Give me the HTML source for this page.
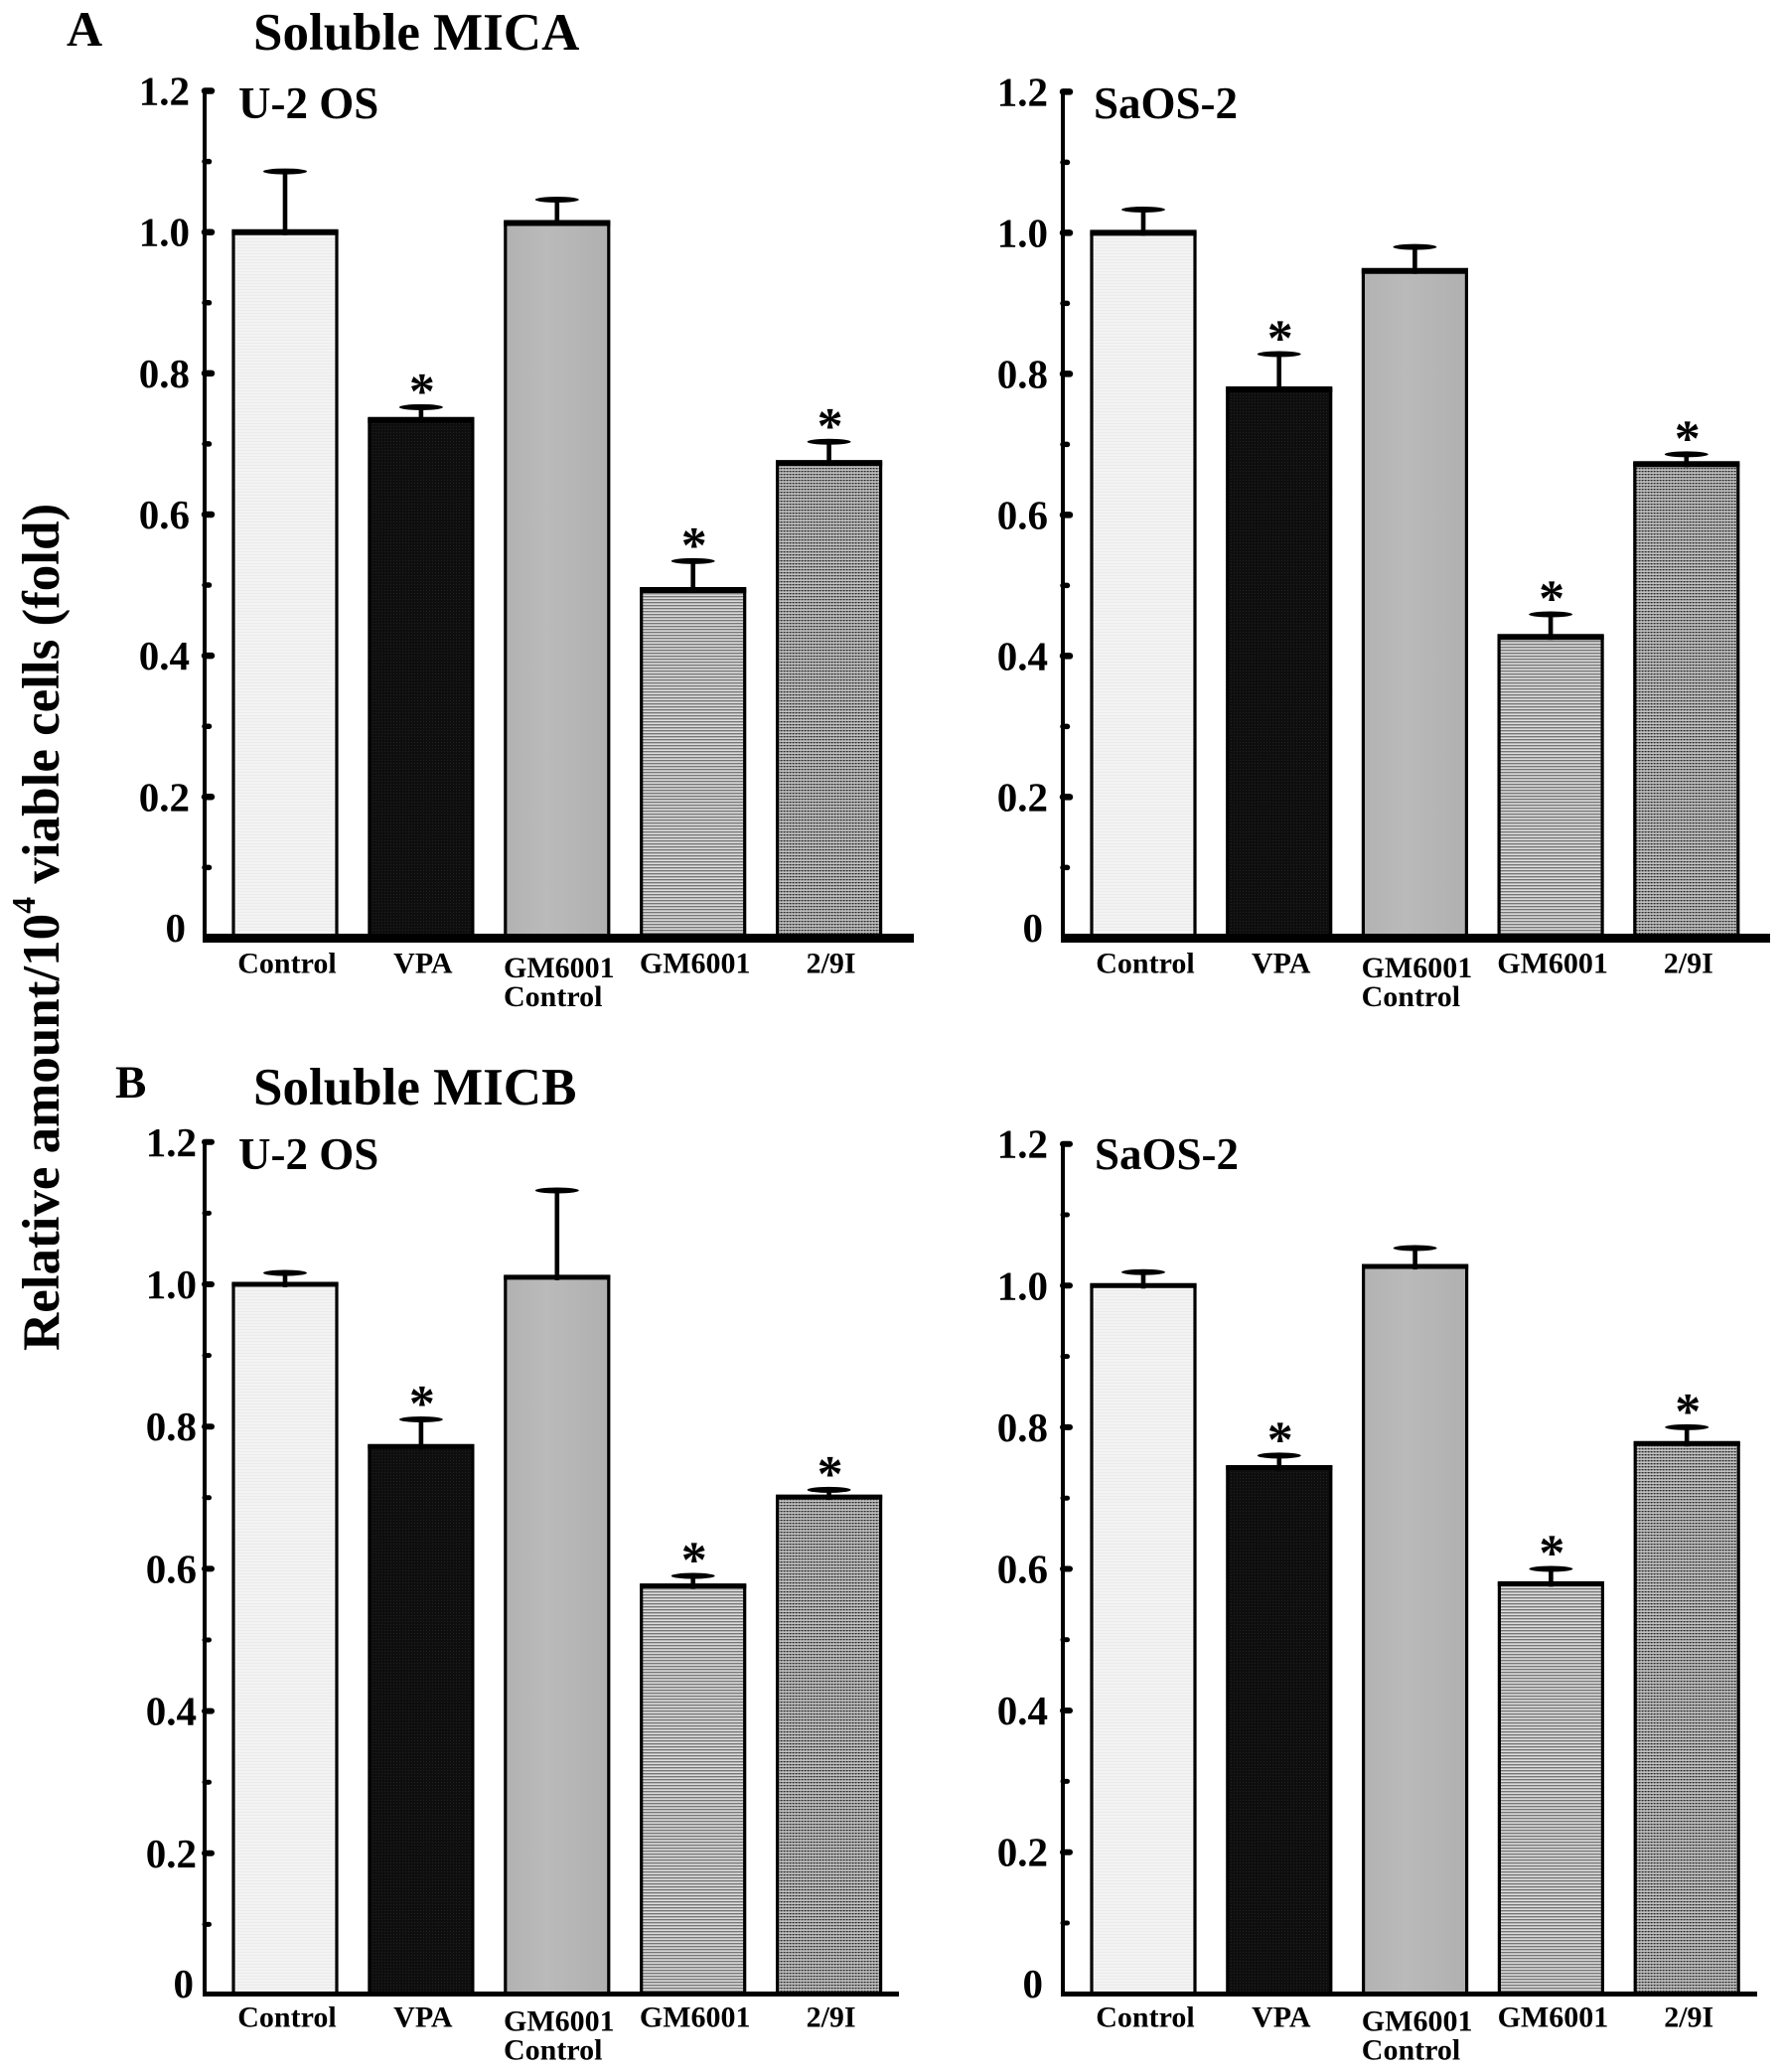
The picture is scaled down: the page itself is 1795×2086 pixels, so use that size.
<!DOCTYPE html>
<html lang="en">
<head>
<meta charset="utf-8">
<title>Soluble MICA and MICB bar charts</title>
<style>
  html, body { margin: 0; padding: 0; background: #fff; }
  svg { display: block; }
  text { font-family: "Liberation Serif", serif; font-weight: bold; fill: #000; }
</style>
</head>
<body>
<svg id="figure" xmlns="http://www.w3.org/2000/svg" width="1795" height="2086" viewBox="0 0 1795 2086">
  <defs>
    <pattern id="fill-control" width="3" height="3" patternUnits="userSpaceOnUse">
      <rect width="3" height="3" fill="#f3f3f3"/>
      <rect width="3" height="1" fill="#ebebeb"/>
    </pattern>
    <pattern id="fill-vpa" width="3" height="3" patternUnits="userSpaceOnUse">
      <rect width="3" height="3" fill="#0e0e0e"/>
      <rect width="1" height="1" fill="#222"/>
    </pattern>
    <linearGradient id="fill-gmctl">
      <stop offset="0" stop-color="#b2b2b2"/>
      <stop offset="0.4" stop-color="#bababa"/>
      <stop offset="1" stop-color="#b0b0b0"/>
    </linearGradient>
    <pattern id="fill-gm" width="4" height="3" patternUnits="userSpaceOnUse">
      <rect width="4" height="3" fill="#dcdcdc"/>
      <rect width="4" height="1.4" fill="#777"/>
    </pattern>
    <pattern id="fill-29i" width="3" height="3" patternUnits="userSpaceOnUse">
      <rect width="3" height="3" fill="#2a2a2a"/>
      <rect y="1.5" width="3" height="1.3" fill="#e6e6e6"/>
      <rect x="1.6" width="1" height="1.5" fill="#bbb"/>
    </pattern>
  </defs>

  <text x="67" y="46" font-size="50">A</text>
  <text x="255" y="50" font-size="53">Soluble MICA</text>
  <text x="116" y="1105" font-size="47">B</text>
  <text x="255" y="1112" font-size="53">Soluble MICB</text>

  <text transform="translate(59,1360) rotate(-90)" font-size="53">Relative amount/10<tspan dy="-24" font-size="34">4</tspan><tspan dy="24"> viable cells (fold)</tspan></text>
</svg>

<script>
// ---- chart data ----
const categories = ['Control', 'VPA', 'GM6001|Control', 'GM6001', '2/9I'];
const tickValues = [0, 0.2, 0.4, 0.6, 0.8, 1.0, 1.2];
const tickLabels = ['0', '0.2', '0.4', '0.6', '0.8', '1.0', '1.2'];
const starredCategories = ['VPA', 'GM6001', '2/9I'];

const micaU2osValues   = [1.000, 0.734, 1.013, 0.493, 0.673];
const micaU2osErrors   = [0.086, 0.018, 0.033, 0.041, 0.030];
const micaSaos2Values  = [1.000, 0.778, 0.946, 0.427, 0.672];
const micaSaos2Errors  = [0.033, 0.050, 0.034, 0.032, 0.014];
const micbU2osValues   = [1.000, 0.772, 1.010, 0.576, 0.701];
const micbU2osErrors   = [0.016, 0.038, 0.122, 0.014, 0.010];
const micbSaos2Values  = [1.000, 0.743, 1.027, 0.579, 0.777];
const micbSaos2Errors  = [0.019, 0.017, 0.026, 0.021, 0.023];

// ---- layout ----
const panels = [
  { id: 'mica-u2os',  title: 'U-2 OS', titleX: 240,  titleY: 119,  axisX: 206,  zeroY: 944.4, axisY: 944.5, axisW: 9, unit: 710.7, barX: 235,  step: 136.9, axisEnd: 920,  labelGap: 15,  zeroGap: 19,   labelDy: 35,   twoLineDy: 4.5, tickW: 6.5, topW: 6, values: micaU2osValues,  errors: micaU2osErrors },
  { id: 'mica-saos2', title: 'SaOS-2', titleX: 1101, titleY: 119,  axisX: 1070, zeroY: 944.4, axisY: 944.5, axisW: 9, unit: 710,   barX: 1099, step: 136.7, axisEnd: 1782, labelGap: 15,  zeroGap: 20,   labelDy: 35,   twoLineDy: 4.5, tickW: 6.5, topW: 6, values: micaSaos2Values, errors: micaSaos2Errors },
  { id: 'micb-u2os',  title: 'U-2 OS', titleX: 240,  titleY: 1177, axisX: 206,  zeroY: 2009,  axisY: 2007.5, axisW: 5, unit: 716,  barX: 235,  step: 136.9, axisEnd: 905,  labelGap: 8,   zeroGap: 11,   labelDy: 33,   twoLineDy: 4,   tickW: 6,   topW: 5, values: micbU2osValues,  errors: micbU2osErrors },
  { id: 'micb-saos2', title: 'SaOS-2', titleX: 1102, titleY: 1177, axisX: 1070, zeroY: 2007.3, axisY: 2007.5, axisW: 5, unit: 713, barX: 1099, step: 136.8, axisEnd: 1769, labelGap: 15,  zeroGap: 20,   labelDy: 33,   twoLineDy: 4,   tickW: 6,   topW: 5, values: micbSaos2Values, errors: micbSaos2Errors }
];
const BAR_W = 104;
const fills = ['url(#fill-control)', 'url(#fill-vpa)', 'url(#fill-gmctl)', 'url(#fill-gm)', 'url(#fill-29i)'];

const NS = 'http://www.w3.org/2000/svg';
const svg = document.getElementById('figure');

function mk(tag, attrs, parent, text) {
  const el = document.createElementNS(NS, tag);
  for (const k in attrs) el.setAttribute(k, attrs[k]);
  if (text !== undefined) el.textContent = text;
  parent.appendChild(el);
  return el;
}
function yScale(p, v) { return p.zeroY - v * p.unit; }
function xBand(p, i) { return p.barX + i * p.step; }
function slug(s) { return s.toLowerCase().replace(/[^a-z0-9]+/g, '-'); }

panels.forEach(function (p) {
  const g = mk('g', {}, svg);
  
  

  const cellTitle = mk('text', { x: p.titleX, y: p.titleY, 'font-size': 45 }, g, p.title);
  
  

  // bars and error bars
  categories.forEach(function (cat, i) {
    const name = slug(cat);
    const x = xBand(p, i);
    const cx = x + BAR_W / 2;
    const v = p.values[i];
    const top = yScale(p, v);
    const capY = yScale(p, v + p.errors[i]);

    const bar = mk('rect', { x: x, y: top, width: BAR_W, height: p.axisY - top, fill: fills[i], stroke: '#000', 'stroke-width': 3.2 }, g);
    
    

    const barTop = mk('line', { x1: x - 1.6, x2: x + BAR_W + 1.6, y1: top, y2: top, stroke: '#000', 'stroke-width': p.topW }, g);
    
    

    const stem = mk('line', { x1: cx, x2: cx, y1: top + 3, y2: capY, stroke: '#000', 'stroke-width': 4.6 }, g);
    
    

    const cap = mk('ellipse', { cx: cx, cy: capY, rx: 22, ry: 3, fill: '#000' }, g);
    
    

    if (starredCategories.indexOf(cat) >= 0) {
      const star = mk('text', { x: cx + 1, y: capY + 1, 'font-size': 52, 'text-anchor': 'middle' }, g, '*');
      
      
    }

    // category label
    const lines = cat.split('|');
    const two = lines.length > 1;
    const lx = two ? cx + 2 - 55.8 : cx + 2;
    const ly = p.axisY + p.labelDy + (two ? p.twoLineDy : 0);
    const lab = mk('text', { x: lx, y: ly, 'font-size': 30, 'text-anchor': two ? 'start' : 'middle' }, g, lines[0]);
    
    
    if (two) {
      const lab2 = mk('text', { x: lx, y: ly + 29, 'font-size': 30 }, g, lines[1]);
      
      
    }
  });

  // axes
  const yAxis = mk('line', { x1: p.axisX, x2: p.axisX, y1: yScale(p, tickValues[tickValues.length - 1]), y2: p.axisY, stroke: '#000', 'stroke-width': 4 }, g);
  
  

  const xAxis = mk('line', { x1: p.axisX - 2, x2: p.axisEnd, y1: p.axisY, y2: p.axisY, stroke: '#000', 'stroke-width': p.axisW }, g);
  
  

  // ticks and labels
  tickValues.forEach(function (t, i) {
    const y = yScale(p, t);
    if (t > 0) {
      const tick = mk('line', { x1: p.axisX, x2: p.axisX + 7, y1: y, y2: y, stroke: '#000', 'stroke-width': p.tickW, 'stroke-linecap': 'round' }, g);
      
      
      const my = yScale(p, (t + tickValues[i - 1]) / 2);
      const minor = mk('line', { x1: p.axisX, x2: p.axisX + 4.5, y1: my, y2: my, stroke: '#000', 'stroke-width': p.tickW - 1, 'stroke-linecap': 'round' }, g);
      
      
    }
    const lx = p.axisX - (t === 0 ? p.zeroGap : p.labelGap);
    const ly = t === 0 ? p.axisY + 3.5 : y + 14;
    const label = mk('text', { x: lx, y: ly, 'font-size': 41, 'text-anchor': 'end' }, g, tickLabels[i]);
    
    
  });
});
</script>
</body>
</html>
